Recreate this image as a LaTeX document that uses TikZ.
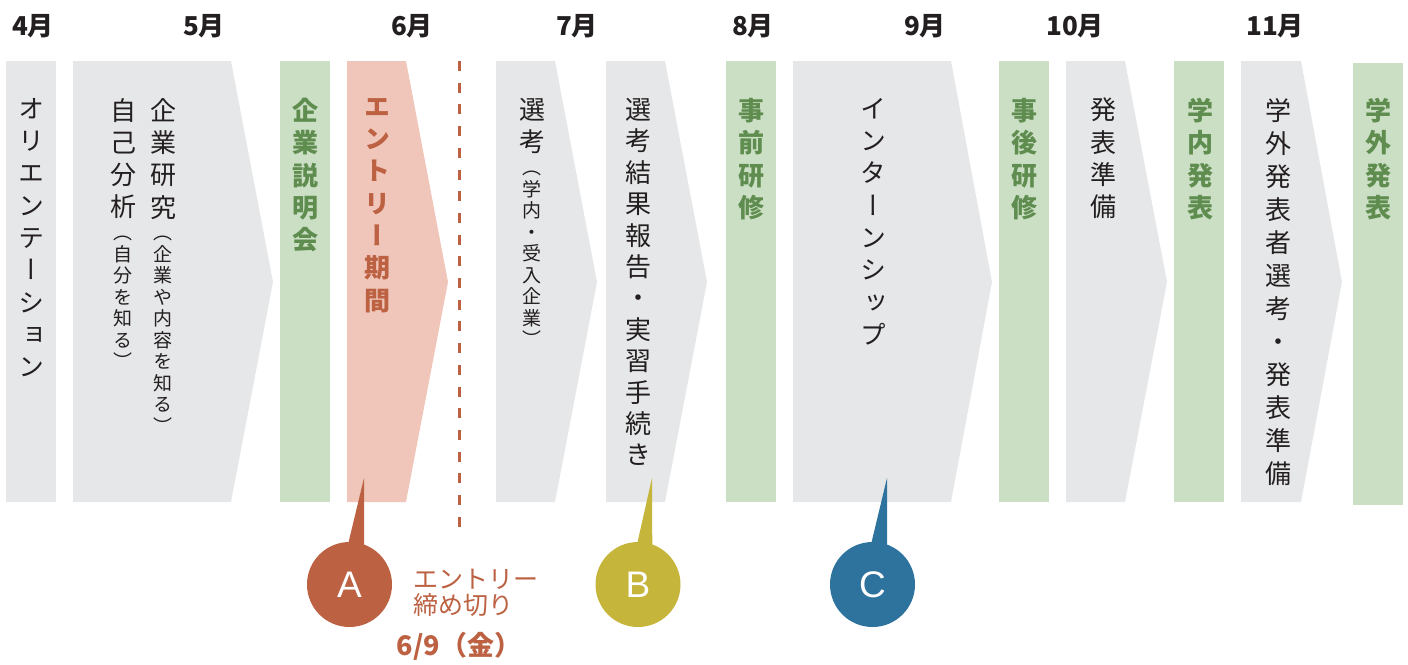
\documentclass[tikz,border=0pt]{standalone}
\usepackage{fontspec}
\usetikzlibrary{calc}
\newfontfamily\jpv[RawFeature=+vert]{Noto Sans CJK JP}
\newfontfamily\jph{Noto Sans CJK JP}
\newfontfamily\latf{Liberation Sans}
\definecolor{grayfill}{HTML}{E6E7E8}
\definecolor{greenfill}{HTML}{CBDFC4}
\definecolor{greentext}{HTML}{5F8C4F}
\definecolor{pinkfill}{HTML}{F0C6BA}
\definecolor{brown}{HTML}{BC6142}
\definecolor{olive}{HTML}{C5B53A}
\definecolor{bluec}{HTML}{2E729E}
\definecolor{darktext}{HTML}{231F20}
\tikzset{
  vcol/.style={inner sep=0pt, anchor=north, align=center, text=darktext},
  vbig/.style={vcol, font=\jpv\fontsize{26}{32.3}\selectfont},
  vsmall/.style={vcol, font=\jpv\fontsize{19}{21.5}\selectfont},
  vgreen/.style={vcol, text=greentext, font=\jpv\bfseries\fontsize{26}{32.3}\selectfont},
  month/.style={inner sep=0pt, text=darktext, font=\jph\bfseries\fontsize{26}{30}\selectfont},
  badge/.style={circle, inner sep=0pt, minimum size=85pt, text=white, font=\latf\fontsize{37}{40}\selectfont},
}
\begin{document}
\begin{tikzpicture}[x=1pt,y=-1pt]
\useasboundingbox (0,0) rectangle (1408,664);
% month labels
\node[month] (m4) at (33,26) {4月};
\node[month] (m5) at (204,26) {5月};
\node[month] (m6) at (412,26) {6月};
\node[month] (m7) at (577,26) {7月};
\node[month] (m8) at (753,26) {8月};
\node[month] (m9) at (925,26) {9月};
\node[month] (m10) at (1075,26) {10月};
\node[month] (m11) at (1275,26) {11月};
% shapes
\fill[grayfill] (6,61) rectangle (56,502);
\fill[grayfill] (73,61) -- (231,61) -- (273,282) -- (231,502) -- (73,502) -- cycle;
\fill[greenfill] (280,61) rectangle (330,502);
\fill[pinkfill] (347,61) -- (406,61) -- (448,282) -- (406,502) -- (347,502) -- cycle;
\fill[grayfill] (496,61) -- (555,61) -- (597,282) -- (555,502) -- (496,502) -- cycle;
\fill[grayfill] (606,61) -- (665,61) -- (707,282) -- (665,502) -- (606,502) -- cycle;
\fill[greenfill] (726,61) rectangle (776,502);
\fill[grayfill] (793,61) -- (951,61) -- (992,282) -- (951,502) -- (793,502) -- cycle;
\fill[greenfill] (999,61) rectangle (1049,502);
\fill[grayfill] (1066,61) -- (1125,61) -- (1167,282) -- (1125,502) -- (1066,502) -- cycle;
\fill[greenfill] (1174,61) rectangle (1224,502);
\fill[grayfill] (1241,61) -- (1301,61) -- (1342,282) -- (1301,502) -- (1241,502) -- cycle;
\fill[greenfill] (1353,63) rectangle (1403,505);
% dashed line
\coordinate (dtop) at (459,61);
\coordinate (dbot) at (459,538);
\draw[brown, line width=3pt, dash pattern=on 10pt off 11.7pt] (dtop) -- (dbot);
% column texts
\node[vbig] (t1) at (31,98) {オ\\リ\\エ\\ン\\テ\\ー\\シ\\ョ\\ン};
\node[vbig] (t2a) at (123,98) {自\\己\\分\\析};
\node[vsmall] (t2b) at (123,236) {（\\自\\分\\を\\知\\る\\）};
\node[vbig] (t3a) at (163,98) {企\\業\\研\\究};
\node[vsmall] (t3b) at (163,236) {（\\企\\業\\や\\内\\容\\を\\知\\る\\）};
\node[vgreen] (t4) at (305,98) {企\\業\\説\\明\\会};
\node[vgreen, text=brown] (t5) at (377,98) {エ\\ン\\ト\\リ\\ー\\期\\間};
\node[vbig] (t6a) at (532,98) {選\\考};
\node[vsmall] (t6b) at (532,171) {（\\学\\内\\・\\受\\入\\企\\業\\）};
\node[vbig, font=\jpv\fontsize{26}{31.4}\selectfont] (t7) at (638,98) {選\\考\\結\\果\\報\\告\\・\\実\\習\\手\\続\\き};
\node[vgreen] (t8) at (751,98) {事\\前\\研\\修};
\node[vbig] (t9) at (873,98) {イ\\ン\\タ\\ー\\ン\\シ\\ッ\\プ};
\node[vgreen] (t10) at (1024,98) {事\\後\\研\\修};
\node[vbig] (t11) at (1103,98) {発\\表\\準\\備};
\node[vgreen] (t12) at (1200,98) {学\\内\\発\\表};
\node[vbig, font=\jpv\fontsize{26}{33}\selectfont] (t13) at (1278,98) {学\\外\\発\\表\\者\\選\\考\\・\\発\\表\\準\\備};
\node[vgreen] (t14) at (1378,98) {学\\外\\発\\表};
% badges
\coordinate (pA) at (364,478);
\coordinate (pB) at (652,478);
\coordinate (pC) at (887,478);
\node[badge, fill=brown] (A) at (349.5,584.5) {A};
\node[badge, fill=olive] (B) at (638,584.5) {B};
\node[badge, fill=bluec] (C) at (872.5,584.5) {C};
\fill[brown] (pA) -- ($(A.center)+(-1.5,-40)$) -- ($(A.center)+(14.5,-36)$) -- cycle;
\fill[olive] (pB) -- ($(B.center)+(-1,-40)$) -- ($(B.center)+(14.3,-36)$) -- cycle;
\fill[bluec] (pC) -- ($(C.center)+(-1.5,-40)$) -- ($(C.center)+(14.5,-36)$) -- cycle;
% deadline
\node[inner sep=0pt, anchor=north west, align=left, text=brown, font=\jph\fontsize{25}{26}\selectfont] (dl) at (413,569) {エントリー\\締め切り};
\node[inner sep=0pt, text=brown, font=\jph\bfseries\fontsize{27}{30}\selectfont] (dd) at (459,646) {6/9（金）};
\end{tikzpicture}
\end{document}
